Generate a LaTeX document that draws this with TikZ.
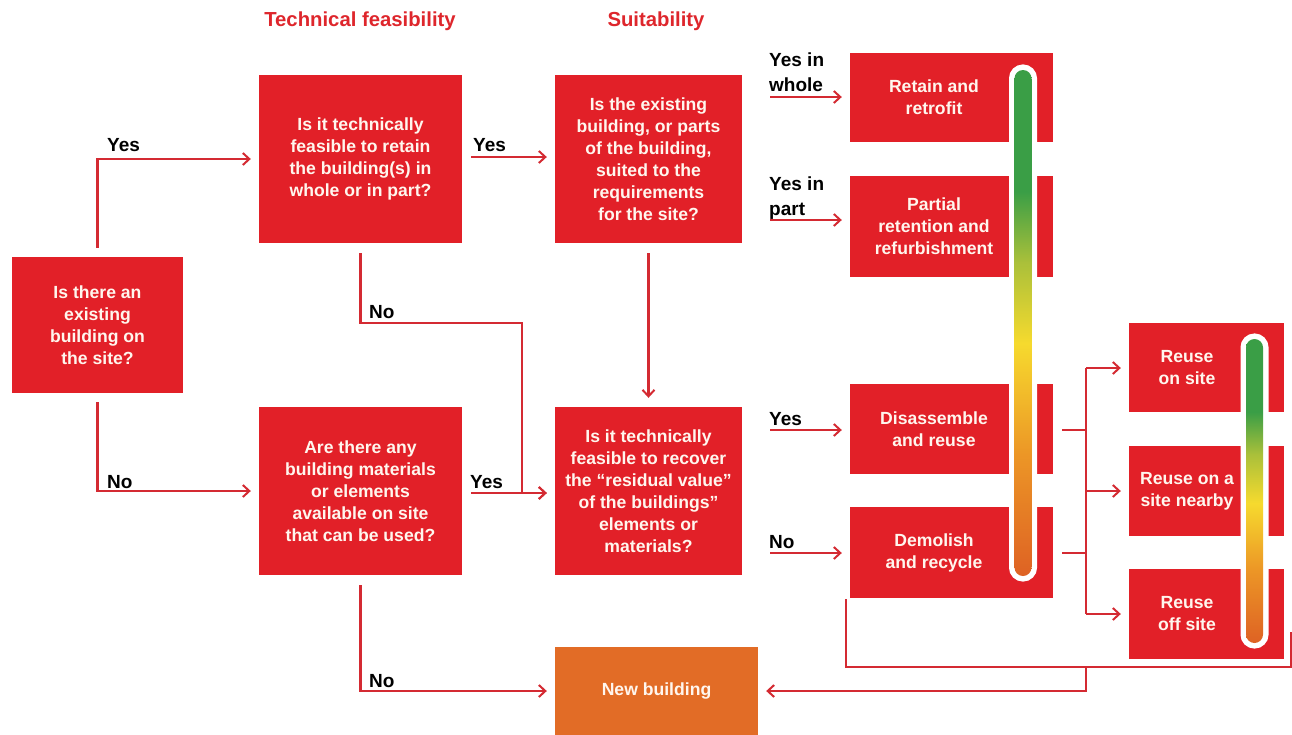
\documentclass[tikz,border=0pt]{standalone}
\usepackage{fontspec}
\setmainfont{Liberation Sans}
\usetikzlibrary{arrows.meta}
\definecolor{boxred}{RGB}{226,32,40}
\definecolor{linered}{RGB}{212,42,50}
\definecolor{headred}{RGB}{222,38,44}
\definecolor{nborange}{RGB}{226,108,38}
\definecolor{boxtext}{RGB}{255,246,238}
\definecolor{barA}{RGB}{58,158,70}
\definecolor{barB}{RGB}{170,192,58}
\definecolor{barC}{RGB}{246,218,46}
\definecolor{barD}{RGB}{236,150,38}
\definecolor{barE}{RGB}{222,98,36}
\pgfdeclareverticalshading{barshade}{100bp}{color(0bp)=(barE); color(25bp)=(barE); color(37bp)=(barD); color(48bp)=(barC); color(56bp)=(barB); color(63bp)=(barA); color(75bp)=(barA); color(100bp)=(barA)}
\begin{document}
\begin{tikzpicture}[x=1pt,y=-1pt,
  box/.style={fill=boxred, text=boxtext, font=\bfseries\fontsize{17.6}{22}\selectfont, align=center, inner sep=0pt},
  boxtxt/.style={text=boxtext, font=\bfseries\fontsize{17.6}{22}\selectfont, align=center, inner sep=0pt},
  lbl/.style={font=\bfseries\fontsize{19}{25}\selectfont, text=black, anchor=base west, inner sep=0pt, align=left},
  head/.style={font=\bfseries\fontsize{20.3}{24}\selectfont, text=headred, inner sep=0pt},
  conn/.style={draw=linered, line width=2.2pt, -{Straight Barb[length=6.5pt,width=12pt,line width=2pt]}},
  plain/.style={draw=linered, line width=2.2pt},
  barwhite/.style={fill=white, draw=white, line width=11pt, rounded corners=8.5pt},
  barfill/.style={shading=barshade, rounded corners=8.5pt}]
\useasboundingbox (0,0) rectangle (1292,734);

% headers
\node[head] (h1) at (360,21) {Technical feasibility};
\node[head] (h2) at (656,21) {Suitability};

% question boxes
\node[box, minimum width=171, minimum height=136] (q0) at (97.5,325) {Is there an\\existing\\building on\\the site?};
\node[box, minimum width=203, minimum height=168] (q1) at (360.5,159) {Is it technically\\feasible to retain\\the building(s) in\\whole or in part?};
\node[box, minimum width=203, minimum height=168] (q2) at (360.5,491) {Are there any\\building materials\\or elements\\available on site\\that can be used?};
\node[box, minimum width=187, minimum height=168] (q3) at (648.5,159) {Is the existing\\building, or parts\\of the building,\\suited to the\\requirements\\for the site?};
\node[box, minimum width=187, minimum height=168] (q4) at (648.5,491) {Is it technically\\feasible to recover\\the “residual value”\\of the buildings”\\elements or\\materials?};

% outcome boxes
\node[box, minimum width=203, minimum height=89] (r1) at (951.5,97.5) {};
\node[box, minimum width=203, minimum height=101] (r2) at (951.5,226.5) {};
\node[box, minimum width=203, minimum height=90] (r3) at (951.5,429) {};
\node[box, minimum width=203, minimum height=91] (r4) at (951.5,552.5) {};
\node[box, minimum width=155, minimum height=89] (s1) at (1206.5,367.5) {};
\node[box, minimum width=155, minimum height=90] (s2) at (1206.5,491) {};
\node[box, minimum width=155, minimum height=90] (s3) at (1206.5,614) {};
\node[box, fill=nborange, minimum width=203, minimum height=88] (nb) at (656.5,691) {New building};

% gradient bars
\draw[barwhite] (1014.5,70) rectangle (1031.5,576);
\shade[barfill] (1014.5,70) rectangle (1031.5,576);
\draw[barwhite] (1246,339) rectangle (1263,643);
\shade[barfill] (1246,339) rectangle (1263,643);

% outcome texts
\node[boxtxt] (t1) at (934,97.5) {Retain and\\retrofit};
\node[boxtxt] (t2) at (934,226.5) {Partial\\retention and\\refurbishment};
\node[boxtxt] (t3) at (934,429) {Disassemble\\and reuse};
\node[boxtxt] (t4) at (934,552.5) {Demolish\\and recycle};
\node[boxtxt] (u1) at (1187,367.5) {Reuse\\on site};
\node[boxtxt] (u2) at (1187,491) {Reuse on a\\site nearby};
\node[boxtxt] (u3) at (1187,614) {Reuse\\off site};

% connectors from q0
\draw[conn, shorten <=9pt, shorten >=8pt] (q0.north) |- (q1.west);
\node[lbl] (ly0) at (107,151) {Yes};
\draw[conn, shorten <=9pt, shorten >=8pt] (q0.south) |- (q2.west);
\node[lbl] (ln0) at (107,488) {No};

% q1 -> q3
\draw[conn, shorten <=9pt, shorten >=8pt] (q1.east |- 0,157) -- (q3.west |- 0,157);
\node[lbl] (ly1) at (473,151) {Yes};

% q1 -> q4 (No)
\coordinate (j1) at (522,323);
\draw[conn, shorten <=10pt, shorten >=8pt] (q1.south) |- (j1) |- (q4.west |- 0,493);
\node[lbl] (ln1) at (369,318) {No};

% q2 -> q4
\draw[conn, shorten <=9pt, shorten >=8pt] (q2.east |- 0,493) -- (q4.west |- 0,493);
\node[lbl] (ly2) at (470,488) {Yes};

% q3 -> q4
\draw[conn, shorten <=10pt, shorten >=9pt] (q3.south) -- (q4.north);

% q3 -> r1, r2
\coordinate (a1) at (770,97);
\coordinate (a2) at (770,220);
\draw[conn, shorten >=8pt] (a1) -- (r1.west |- a1);
\draw[conn, shorten >=8pt] (a2) -- (r2.west |- a2);
\node[lbl] (ly3) at (769,91) {Yes in\\whole};
\node[lbl] (ly4) at (769,215) {Yes in\\part};

% q4 -> r3, r4
\coordinate (a3) at (770,430);
\coordinate (a4) at (770,553);
\draw[conn, shorten >=8pt] (a3) -- (r3.west |- a3);
\draw[conn, shorten >=8pt] (a4) -- (r4.west |- a4);
\node[lbl] (ly5) at (769,425) {Yes};
\node[lbl] (ln5) at (769,548) {No};

% r3, r4 -> reuse boxes
\coordinate (b3) at (1062,430);
\coordinate (b4) at (1062,553);
\coordinate (v1) at (1086,368);
\coordinate (v3) at (1086,614);
\draw[plain] (b3) -- (v1 |- b3);
\draw[plain] (b4) -- (v1 |- b4);
\draw[plain] (v1) -- (v3);
\draw[conn, shorten >=8pt] (v1) -- (s1.west |- v1);
\draw[conn, shorten >=8pt] (v1 |- s2.west) -- (s2.west);
\draw[conn, shorten >=8pt] (v3) -- (s3.west |- v3);

% bottom bracket -> new building
\coordinate (c1) at (846,599);
\coordinate (c2) at (846,667);
\coordinate (c3) at (1291,667);
\coordinate (c4) at (1291,632);
\draw[plain] (c1) -- (c2) -- (c3) -- (c4);
\coordinate (d1) at (1086,667);
\draw[conn, shorten >=8pt] (d1) |- (nb.east);

% q2 -> new building (No)
\draw[conn, shorten <=10pt, shorten >=8pt] (q2.south) |- (nb.west);
\node[lbl] (ln2) at (369,687) {No};
\end{tikzpicture}
\end{document}
